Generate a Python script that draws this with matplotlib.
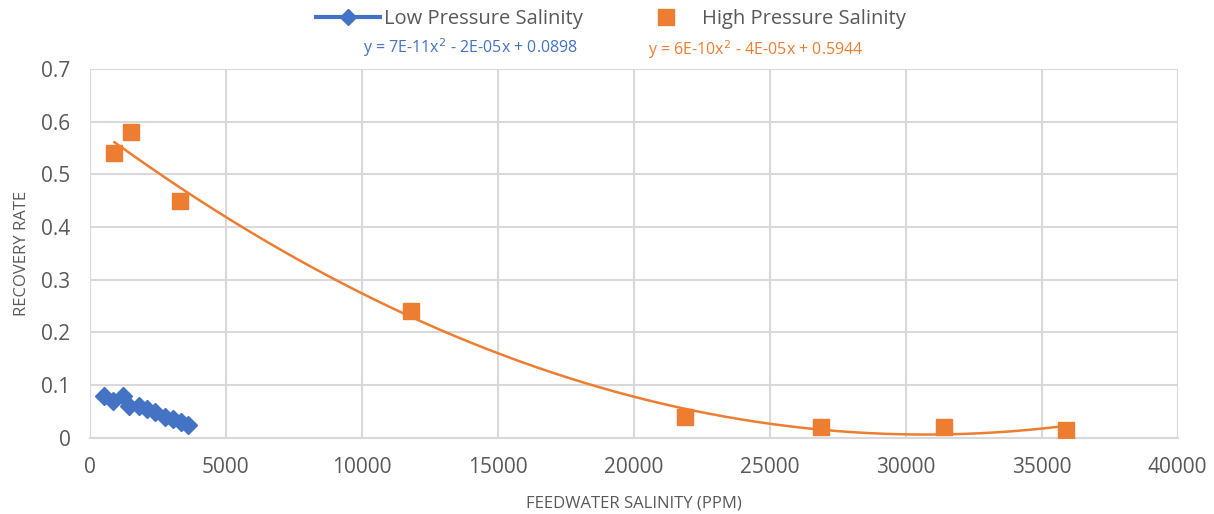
import numpy as np
import matplotlib
matplotlib.use("Agg")
import matplotlib.pyplot as plt
from matplotlib.lines import Line2D

# Data
low_x = [500, 850, 1200, 1450, 1800, 2100, 2400, 2750, 3050, 3350, 3600]
low_y = [0.08, 0.07, 0.08, 0.06, 0.06, 0.055, 0.05, 0.04, 0.035, 0.03, 0.025]
high_x = [900, 1500, 3300, 11800, 21900, 26900, 31400, 35900]
high_y = [0.54, 0.58, 0.45, 0.24, 0.04, 0.02, 0.02, 0.015]
x_ticks = [0, 5000, 10000, 15000, 20000, 25000, 30000, 35000, 40000]
y_ticks = [0, 0.1, 0.2, 0.3, 0.4, 0.5, 0.6, 0.7]
low_label = "Low Pressure Salinity"
high_label = "High Pressure Salinity"
low_eq = "y = 7E-11x$^2$ - 2E-05x + 0.0898"
high_eq = "y = 6E-10x$^2$ - 4E-05x + 0.5944"
x_title = "FEEDWATER SALINITY (PPM)"
y_title = "RECOVERY RATE"

BLUE = "#4472C4"
ORANGE = "#ED7D31"
GRID = "#D9D9D9"
TXT = "#595959"

plt.rcParams['font.family'] = ['Open Sans', 'DejaVu Sans']

fig = plt.figure(figsize=(12.14, 5.14), dpi=100)
ax = fig.add_axes([0.0741, 0.148, 0.896, 0.718])

# trendline for high pressure
coef = np.polyfit(high_x, high_y, 2)
tx = np.linspace(min(high_x), max(high_x), 300)
ax.plot(tx, np.polyval(coef, tx), color=ORANGE, lw=1.8, zorder=3)

ax.plot(low_x, low_y, color=BLUE, lw=2.5, marker='D', ms=9, mfc=BLUE, mec=BLUE, zorder=4)
ax.plot(high_x, high_y, ls='none', marker='s', ms=12, mfc=ORANGE, mec=ORANGE, zorder=5)

ax.set_xlim(0, 40000)
ax.set_ylim(0, 0.7)
ax.set_xticks(x_ticks)
ax.set_yticks(y_ticks)
ax.set_xticklabels([str(v) for v in x_ticks])
ax.set_yticklabels(["0" if v == 0 else f"{v:g}" for v in y_ticks])
ax.grid(True, color=GRID, lw=1.5, zorder=0)
ax.set_axisbelow(True)
for s in ['top', 'right', 'left']:
    ax.spines[s].set_visible(False)
ax.spines['bottom'].set_color(GRID)
ax.spines['bottom'].set_linewidth(1.5)
ax.tick_params(axis='both', length=0, labelsize=15, colors=TXT)
ax.tick_params(axis='x', pad=14)
ax.tick_params(axis='y', pad=14)
ax.set_xlabel(x_title, fontsize=12, color=TXT, labelpad=12)
ax.set_ylabel(y_title, fontsize=12, color=TXT, labelpad=8)

handles = [Line2D([], [], color=BLUE, lw=3, marker='D', ms=8),
           Line2D([], [], color=ORANGE, ls='none', marker='s', ms=11)]
fig.legend(handles, [low_label, high_label], loc='center', bbox_to_anchor=(0.503, 0.963),
           ncol=2, frameon=False, fontsize=14.5, labelcolor=TXT, columnspacing=2.5,
           handlelength=3.2, handletextpad=0.2)

fig.text(471 / 1214, 1 - 48 / 514, low_eq, color=BLUE, fontsize=11.5, ha='center', va='center')
fig.text(756 / 1214, 1 - 50 / 514, high_eq, color=ORANGE, fontsize=11.5, ha='center', va='center')

fig.savefig("out.png", dpi=100, facecolor='white')
